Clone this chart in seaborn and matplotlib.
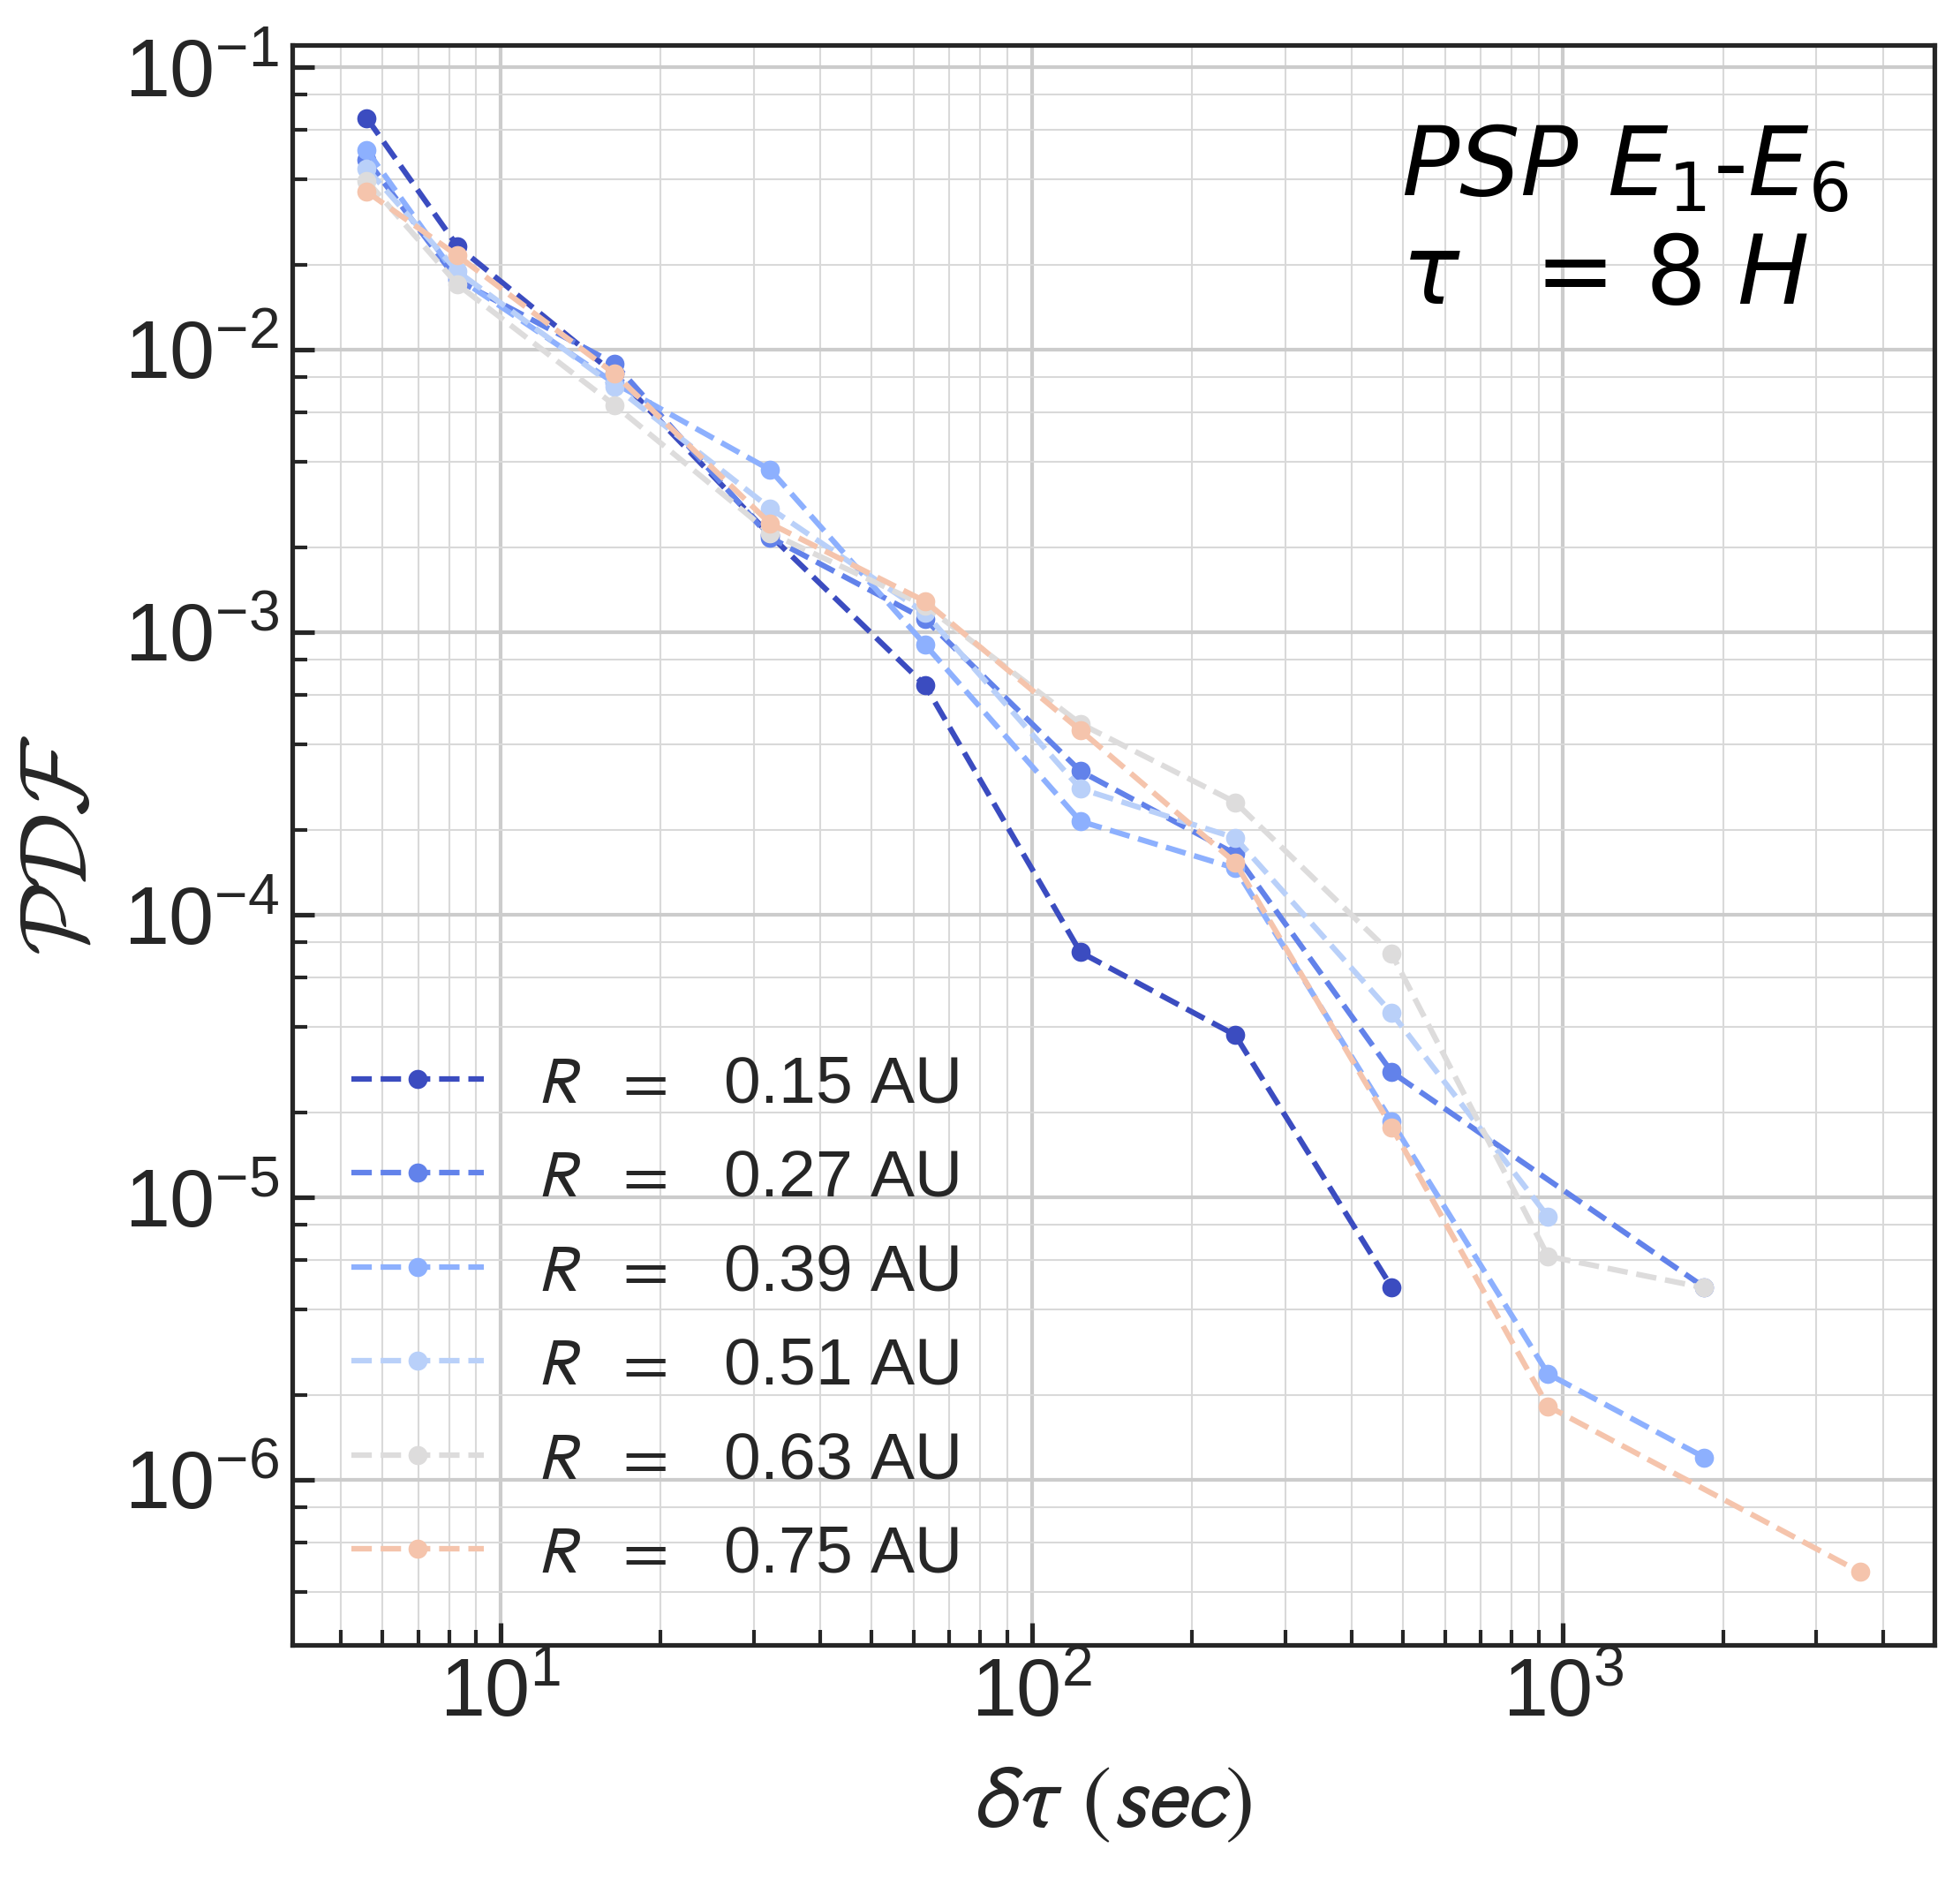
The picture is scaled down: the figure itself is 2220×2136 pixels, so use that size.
import numpy as np
import pandas as pd
import matplotlib
matplotlib.use('Agg')
import matplotlib.pyplot as plt
from matplotlib.ticker import LogLocator
import seaborn as sns

# time lag (sec) and PDF values per radial distance bin (NaN = no point)
dtau = [5.6, 8.3, 16.4, 32.2, 63.0, 123.5, 241.5, 476, 937, 1845, 3620]
nan = np.nan
pdf_015 = [0.066, 0.0232, 0.0082, 0.0022, 0.000648, 7.36e-5, 3.75e-5, 4.8e-6, nan, nan, nan]
pdf_027 = [0.047, 0.0176, 0.00891, 0.00216, 0.00111, 0.000322, 0.000164, 2.77e-5, nan, 4.8e-6, nan]
pdf_039 = [0.0508, 0.018, 0.0076, 0.00375, 0.000902, 0.000214, 0.000146, 1.85e-5, 2.37e-6, 1.2e-6, nan]
pdf_051 = [0.0438, 0.0189, 0.00741, 0.00274, 0.001167, 0.000279, 0.000187, 4.48e-5, 8.53e-6, nan, nan]
pdf_063 = [0.0396, 0.0170, 0.00635, 0.00224, 0.00124, 0.000474, 0.000250, 7.26e-5, 6.18e-6, 4.78e-6, nan]
pdf_075 = [0.0362, 0.0215, 0.0082, 0.00242, 0.001285, 0.000449, 0.000153, 1.77e-5, 1.82e-6, nan, 4.72e-7]

radii = ['0.15', '0.27', '0.39', '0.51', '0.63', '0.75']
series = [pdf_015, pdf_027, pdf_039, pdf_051, pdf_063, pdf_075]

sns.set_style('whitegrid', {'axes.edgecolor': '.15', 'xtick.bottom': True, 'ytick.left': True,
                            'xtick.direction': 'in', 'ytick.direction': 'in'})
plt.rcParams['font.family'] = ['Liberation Sans', 'DejaVu Sans']
plt.rcParams['mathtext.fontset'] = 'stixsans'

colors = plt.cm.coolwarm(np.arange(6) / 8)

fig = plt.figure(figsize=(7.4, 7.12), dpi=300)
ax = fig.add_axes([0.149, 0.128, 0.838, 0.848])

for r, vals, c in zip(radii, series, colors):
    df = pd.DataFrame({'dtau': dtau, 'pdf': vals}).dropna()
    sns.lineplot(data=df, x='dtau', y='pdf', ax=ax, color=c, linestyle='--', lw=1.5,
                 marker='o', markersize=5.2, markeredgewidth=0,
                 label=f'$R$  $=\\,$  {r} AU')

ax.set_xscale('log')
ax.set_yscale('log')
ax.yaxis.set_minor_locator(LogLocator(base=10, subs=(2, 4, 6, 8), numticks=20))

ax.grid(which='major', color='.8', lw=1.0)
ax.grid(which='minor', color='.85', lw=0.5)
for s in ax.spines.values():
    s.set_linewidth(1.25)
    s.set_color('.15')
ax.tick_params(which='major', length=6, width=1.25, labelsize=22, colors='.15')
ax.tick_params(which='minor', length=4, width=1.0, colors='.15')

ax.set_xlabel(r'$\delta\tau\ (sec)$', fontsize=24, labelpad=8)
ax.set_ylabel(r'$\mathcal{PDF}$', fontsize=26, math_fontfamily='cm', labelpad=5)

ax.text(0.675, 0.952, '$PSP$ $E_1$-$E_6$\n$\\tau\\,$  = 8 $H$', transform=ax.transAxes,
        fontsize=26, family='DejaVu Sans', math_fontfamily='dejavusans',
        color='black', va='top', ha='left')

ax.legend(loc='center left', bbox_to_anchor=(0.02, 0.203), borderaxespad=0, frameon=False,
          fontsize=18, handlelength=2.0, handletextpad=0.8, labelspacing=0.5)

fig.savefig('out.png', dpi=300)
